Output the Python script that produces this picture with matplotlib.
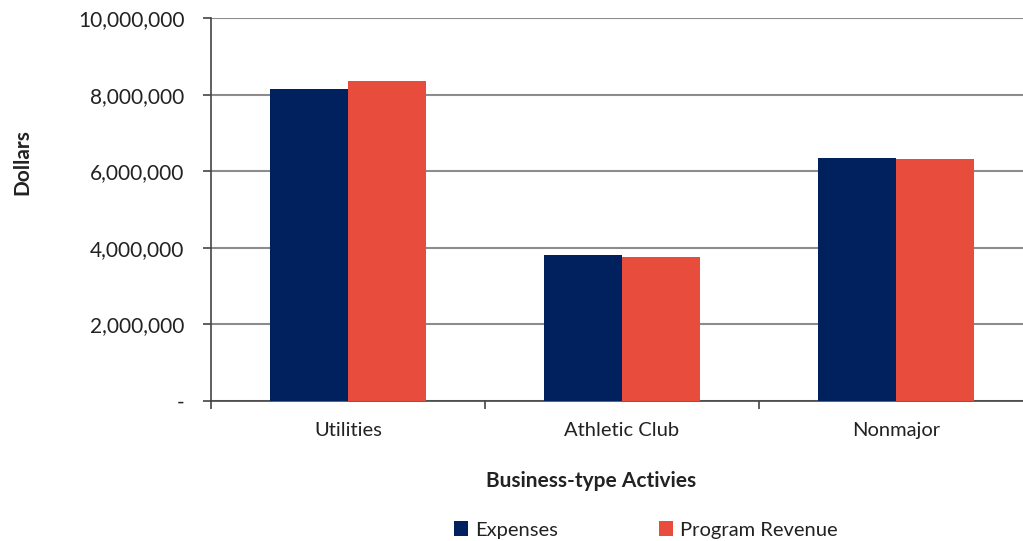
import matplotlib
matplotlib.use("Agg")
import matplotlib.pyplot as plt
from matplotlib.ticker import FuncFormatter, FixedLocator
import numpy as np

categories = ["Utilities", "Athletic Club", "Nonmajor"]
expenses = [8140000, 3810000, 6350000]
program_revenue = [8360000, 3760000, 6320000]
series_names = ["Expenses", "Program Revenue"]
y_ticks = [0, 2000000, 4000000, 6000000, 8000000, 10000000]

plt.rcParams['font.family'] = ['Lato', 'DejaVu Sans']

navy = "#01205E"
red = "#E84C3D"

fig = plt.figure(figsize=(10.23, 5.41), dpi=100)
ax = fig.add_axes([211/1023, 1-401/541, 822/1023, (401-18)/541])

x = np.arange(len(categories))
w = 0.285
b1 = ax.bar(x - w/2, expenses, w, color=navy, label=series_names[0], zorder=3)
b2 = ax.bar(x + w/2, program_revenue, w, color=red, label=series_names[1], zorder=3)

ax.set_xlim(-0.5, 2.5)
ax.set_ylim(0, 10000000)
ax.set_yticks(y_ticks)
ax.yaxis.set_major_formatter(FuncFormatter(lambda v, p: "-" if v == 0 else f"{int(v):,}"))
ax.grid(axis='y', color='#8c8c8c', linewidth=1.5, zorder=0)

ax.set_xticks(x)
ax.set_xticklabels(categories)
ax.xaxis.set_minor_locator(FixedLocator([-0.5, 0.5, 1.5, 2.5]))
ax.tick_params(axis='x', which='major', length=0, pad=15, labelsize=14.5, colors='#222222')
ax.tick_params(axis='x', which='minor', length=6, width=1.2, color='#444444', direction='out')
ax.tick_params(axis='y', length=6, width=1.2, color='#444444', direction='out', pad=13, labelsize=15, labelcolor='#222222')

for s in ['top', 'right']:
    ax.spines[s].set_visible(False)
for s in ['left', 'bottom']:
    ax.spines[s].set_color('#444444')
    ax.spines[s].set_linewidth(1.2)

fig.text(22/1023, 1-162/541, "Dollars", rotation=90, ha='center', va='center',
         fontsize=15, fontweight='bold', color='#222222')
fig.text(591/1023, 1-481/541, "Business-type Activies", ha='center', va='center',
         fontsize=15, fontweight='bold', color='#222222')

leg = fig.legend(handles=[b1, b2], labels=series_names, loc='center',
                 bbox_to_anchor=(646/1023, 1-530/541), ncol=2, frameon=False,
                 fontsize=14.5, handlelength=0.7, handleheight=0.7,
                 handletextpad=0.35, columnspacing=5.0, labelcolor='#222222')

fig.savefig("out.png", dpi=100)
